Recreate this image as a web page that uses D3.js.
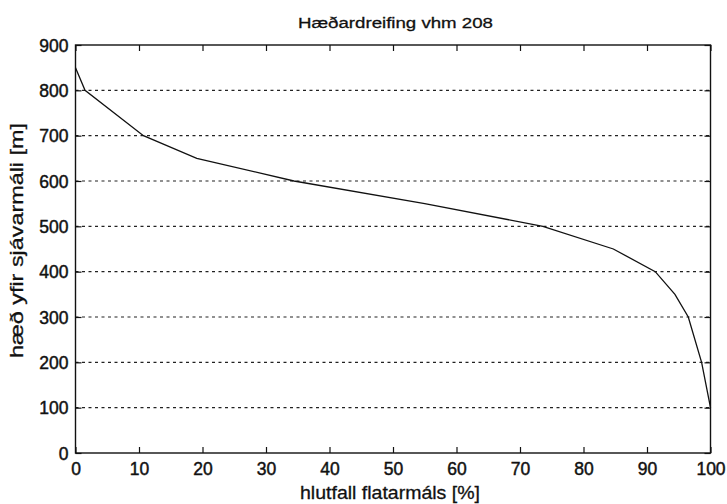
<!DOCTYPE html>
<html><head><meta charset="utf-8">
<script src="https://cdn.jsdelivr.net/npm/d3@7"></script>
<style>body{margin:0;background:#fff}svg{display:block}text{font-family:"Liberation Sans",Arial,sans-serif;fill:#111}</style>
</head><body>
<svg id="c" width="727" height="504"></svg>
<script>
const title = "Hæðardreifing vhm 208";
const xLabel = "hlutfall flatarmáls [%]";
const yLabel = "hæð yfir sjávarmáli [m]";
const areaPct = [0, 1.5, 10.7, 19.1, 34.4, 55, 73.6, 84.7, 91.3, 94.4, 96.5, 98.6, 100];
const heightM = [850, 800, 700, 650, 600, 550, 500, 450, 400, 350, 300, 200, 100];
const xTicks = [0,10,20,30,40,50,60,70,80,90,100];
const yTicks = [0,100,200,300,400,500,600,700,800,900];

const svg = d3.select("#c");
const L = 75.5, R = 710.5, T = 45, B = 453;
const x = d3.scaleLinear().domain([0,100]).range([L,R]);
const y = d3.scaleLinear().domain([0,900]).range([B,T]);

// grid
svg.append("g").selectAll("line").data(yTicks.filter(v=>v>0&&v<900)).join("line")
  .attr("x1",L).attr("x2",R).attr("y1",d=>y(d)).attr("y2",d=>y(d))
  .attr("stroke","#222").attr("stroke-width",1.2).attr("stroke-dasharray","3,3.5");

// frame
svg.append("rect").attr("x",L).attr("y",T).attr("width",R-L).attr("height",B-T)
  .attr("fill","none").attr("stroke","#111").attr("stroke-width",1.4);

// axes
const xb = svg.append("g").attr("transform",`translate(0,${B})`)
  .call(d3.axisBottom(x).tickValues(xTicks).tickSizeInner(-6).tickSizeOuter(0).tickPadding(10));
const xt = svg.append("g").attr("transform",`translate(0,${T})`)
  .call(d3.axisTop(x).tickValues(xTicks).tickSizeInner(-6).tickSizeOuter(0).tickFormat(""));
const yl = svg.append("g").attr("transform",`translate(${L},0)`)
  .call(d3.axisLeft(y).tickValues(yTicks).tickSizeInner(-6).tickSizeOuter(0).tickPadding(7));
const yr = svg.append("g").attr("transform",`translate(${R},0)`)
  .call(d3.axisRight(y).tickValues(yTicks).tickSizeInner(-6).tickSizeOuter(0).tickFormat(""));
[xb,xt,yl,yr].forEach(g=>{g.select(".domain").remove();g.selectAll("line").attr("stroke","#111").attr("stroke-width",1.2);});
[xb,yl].forEach(g=>g.selectAll("text").attr("font-size",17.5).attr("font-family","Liberation Sans, Arial, sans-serif")
  .attr("fill","#111").attr("stroke","#111").attr("stroke-width",0.45));
xb.selectAll("text").attr("dy","0.71em");
yl.selectAll("text").attr("dy","0.35em");

// curve
svg.append("path").datum(areaPct.map((a,i)=>[a,heightM[i]]))
  .attr("d", d3.line().x(d=>x(d[0])).y(d=>y(d[1])))
  .attr("fill","none").attr("stroke","#111").attr("stroke-width",1.3);

// labels
svg.append("text").attr("x",395.5).attr("y",27.5).attr("text-anchor","middle").attr("font-size",15.5)
  .attr("textLength",195).attr("lengthAdjust","spacingAndGlyphs")
  .attr("stroke","#111").attr("stroke-width",0.3).text(title);
svg.append("text").attr("x",390).attr("y",499).attr("text-anchor","middle").attr("font-size",18.5)
  .attr("textLength",180).attr("lengthAdjust","spacingAndGlyphs")
  .attr("stroke","#111").attr("stroke-width",0.3).text(xLabel);
svg.append("text").attr("transform",`translate(23,240.5) rotate(-90)`).attr("text-anchor","middle").attr("font-size",18.5)
  .attr("textLength",235).attr("lengthAdjust","spacingAndGlyphs")
  .attr("stroke","#111").attr("stroke-width",0.3).text(yLabel);
</script>
</body></html>
